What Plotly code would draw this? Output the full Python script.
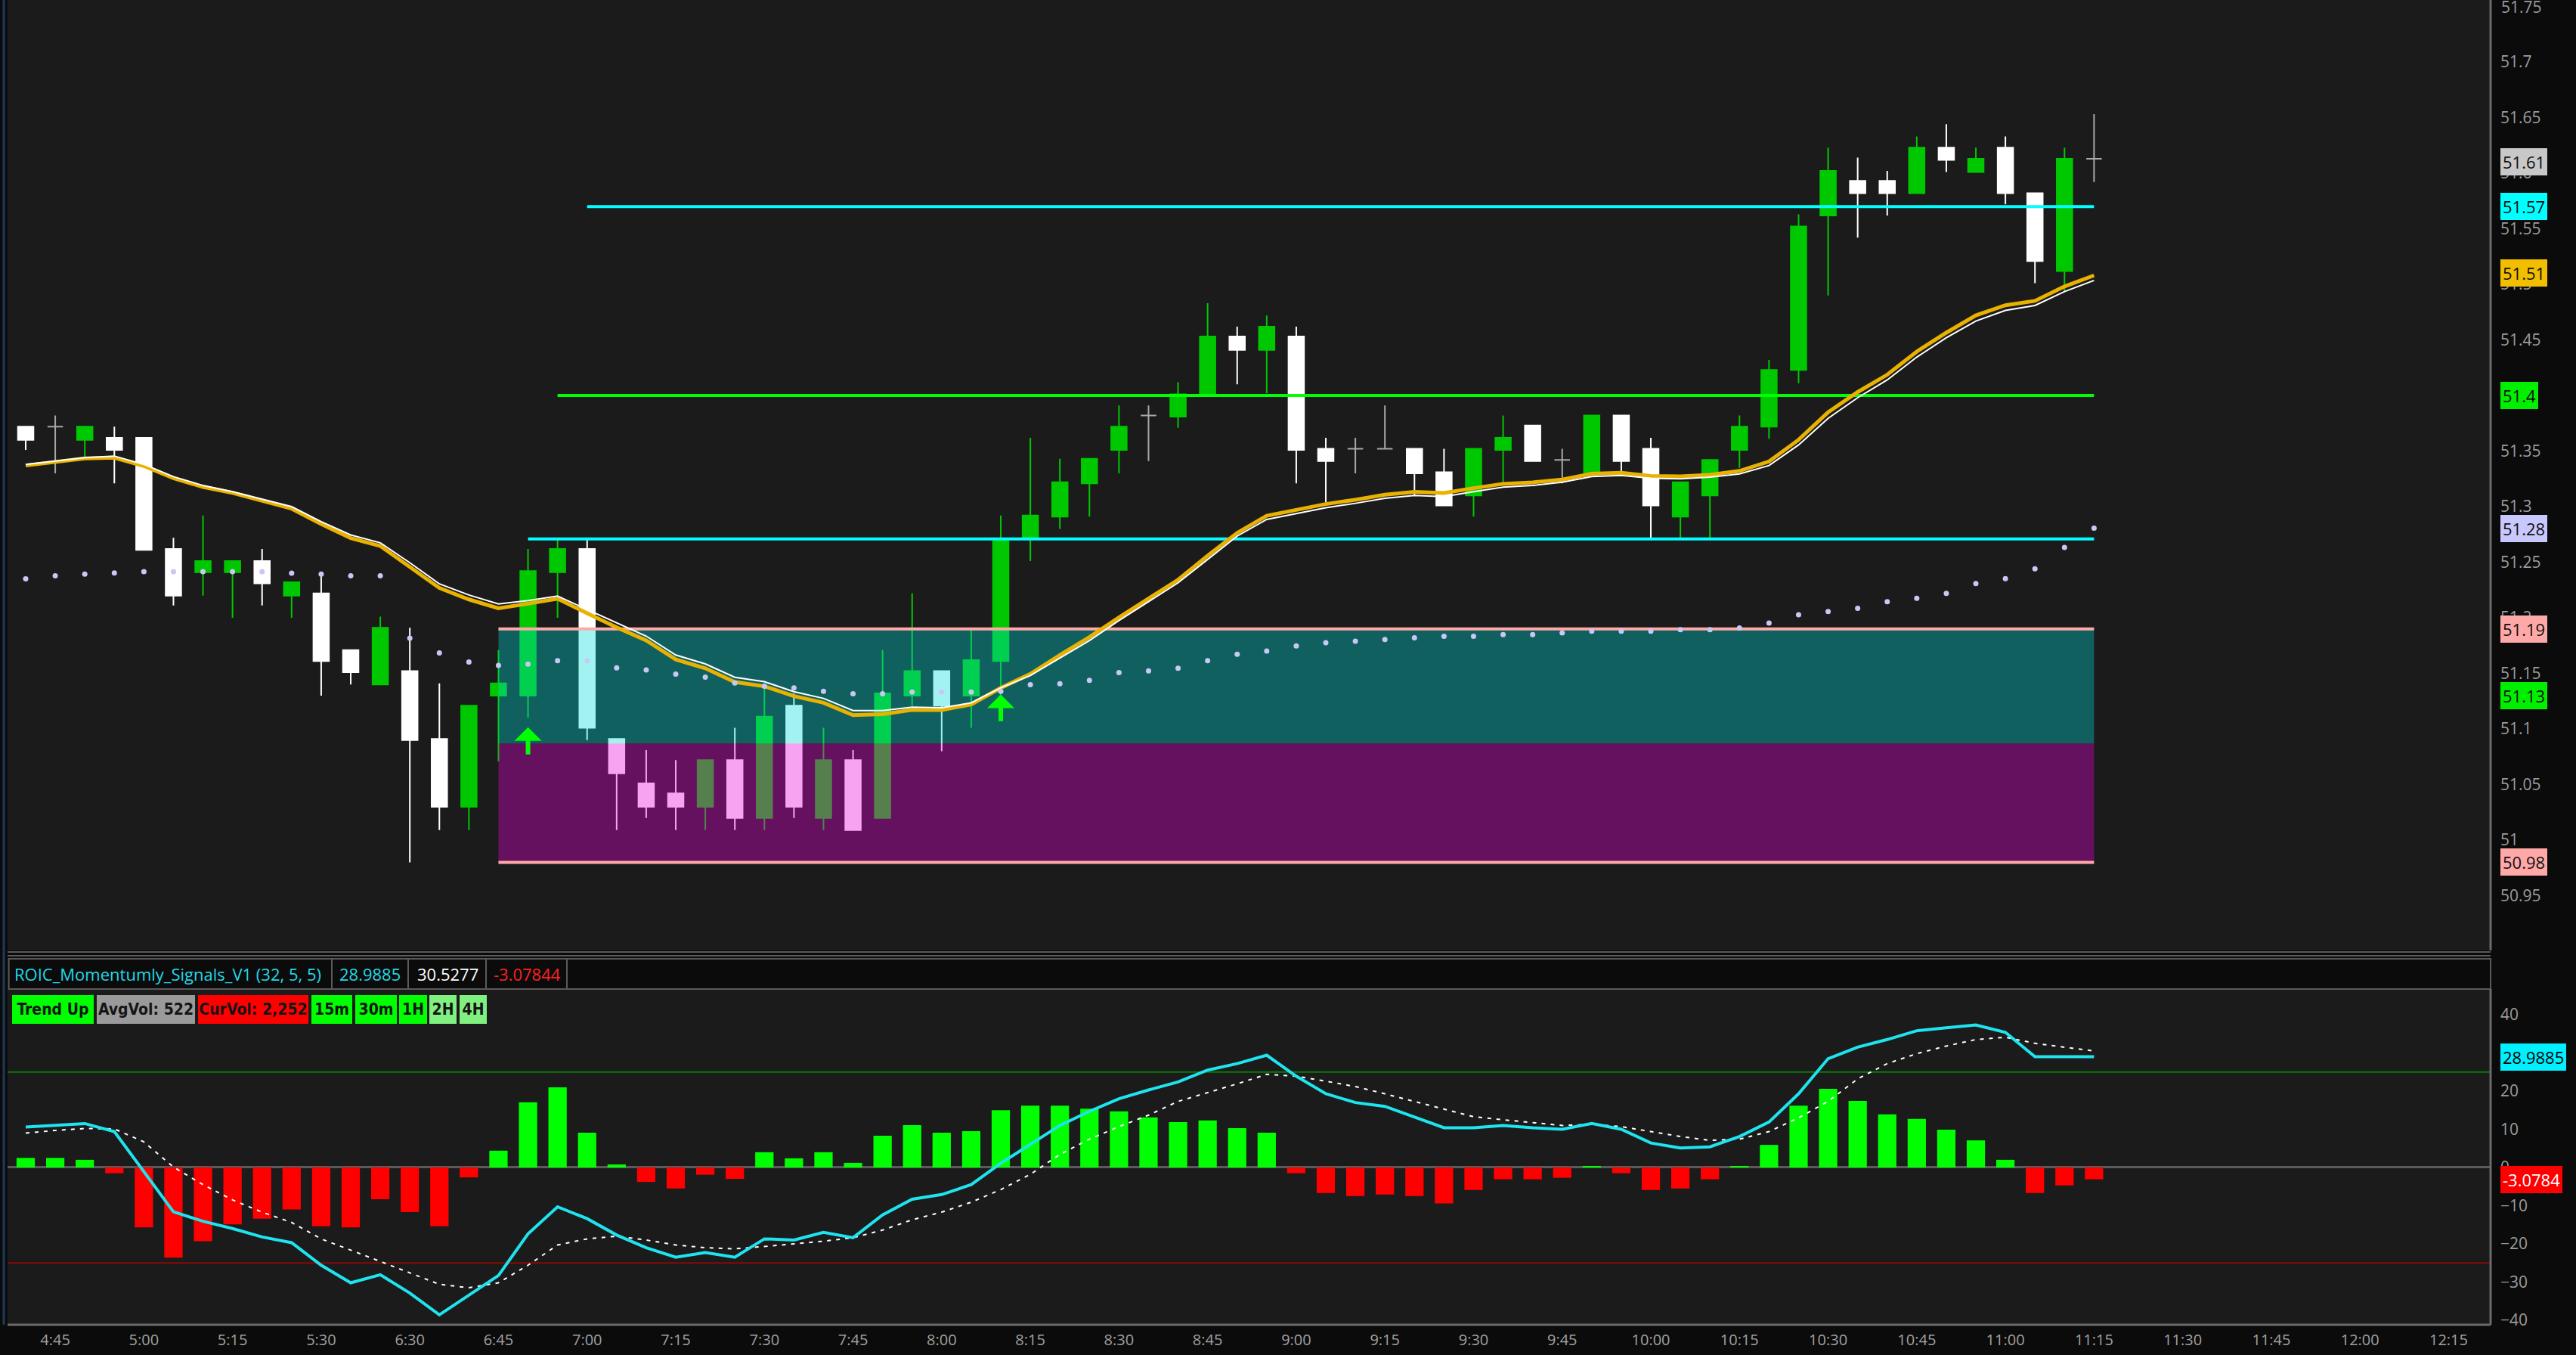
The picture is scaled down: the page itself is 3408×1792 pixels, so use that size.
import plotly.graph_objects as go

# ---------------- data ----------------
bars = list(range(71))
time_label_bars = [1, 4, 7, 10, 13, 16, 19, 22, 25, 28, 31, 34, 37, 40, 43, 46, 49, 52,
                   55, 58, 61, 64, 67, 70, 73, 76, 79, 82]
time_labels = ["4:45", "5:00", "5:15", "5:30", "6:30", "6:45", "7:00", "7:15", "7:30", "7:45",
               "8:00", "8:15", "8:30", "8:45", "9:00", "9:15", "9:30", "9:45", "10:00", "10:15",
               "10:30", "10:45", "11:00", "11:15", "11:30", "11:45", "12:00", "12:15"]

opens = [51.372, 51.372, 51.360, 51.362, 51.362, 51.262, 51.241, 51.241, 51.251, 51.220,
         51.222, 51.171, 51.140, 51.152, 51.091, 51.030, 51.130, 51.130, 51.241, 51.262,
         51.091, 51.051, 51.042, 51.030, 51.072, 51.020, 51.121, 51.020, 51.072, 51.020,
         51.130, 51.152, 51.130, 51.161, 51.271, 51.291, 51.321, 51.351, 51.382, 51.381,
         51.402, 51.453, 51.441, 51.453, 51.352, 51.352, 51.352, 51.352, 51.331, 51.310,
         51.351, 51.373, 51.342, 51.330, 51.382, 51.352, 51.291, 51.310, 51.351, 51.372,
         51.423, 51.562, 51.593, 51.593, 51.582, 51.623, 51.601, 51.623, 51.582, 51.512,
         51.613]
highs = [51.372, 51.382, 51.372, 51.372, 51.362, 51.272, 51.292, 51.251, 51.262, 51.232,
         51.239, 51.171, 51.201, 51.191, 51.141, 51.121, 51.171, 51.262, 51.271, 51.271,
         51.091, 51.081, 51.072, 51.072, 51.101, 51.141, 51.132, 51.101, 51.081, 51.171,
         51.222, 51.152, 51.190, 51.292, 51.362, 51.343, 51.343, 51.391, 51.391, 51.412,
         51.483, 51.462, 51.472, 51.462, 51.362, 51.362, 51.391, 51.352, 51.352, 51.352,
         51.382, 51.373, 51.352, 51.382, 51.382, 51.362, 51.322, 51.342, 51.382, 51.432,
         51.563, 51.623, 51.614, 51.602, 51.633, 51.644, 51.623, 51.633, 51.582, 51.623,
         51.653]
lows = [51.351, 51.330, 51.345, 51.321, 51.261, 51.211, 51.220, 51.200, 51.211, 51.200,
        51.130, 51.140, 51.140, 50.980, 51.009, 51.009, 51.071, 51.110, 51.200, 51.090,
        51.009, 51.020, 51.009, 51.009, 51.009, 51.009, 51.020, 51.009, 51.009, 51.020,
        51.121, 51.080, 51.101, 51.130, 51.251, 51.280, 51.291, 51.330, 51.341, 51.371,
        51.402, 51.410, 51.402, 51.321, 51.304, 51.330, 51.352, 51.310, 51.301, 51.291,
        51.322, 51.341, 51.321, 51.330, 51.330, 51.272, 51.272, 51.272, 51.335, 51.361,
        51.411, 51.490, 51.542, 51.562, 51.582, 51.601, 51.601, 51.572, 51.501, 51.493,
        51.592]
closes = [51.360, 51.372, 51.372, 51.351, 51.261, 51.220, 51.251, 51.251, 51.231, 51.232,
          51.161, 51.151, 51.191, 51.090, 51.030, 51.121, 51.141, 51.242, 51.262, 51.101,
          51.060, 51.030, 51.030, 51.072, 51.020, 51.111, 51.030, 51.072, 51.009, 51.132,
          51.152, 51.121, 51.162, 51.271, 51.292, 51.322, 51.343, 51.372, 51.382, 51.401,
          51.453, 51.441, 51.462, 51.351, 51.341, 51.352, 51.352, 51.330, 51.301, 51.352,
          51.362, 51.341, 51.342, 51.382, 51.341, 51.301, 51.322, 51.342, 51.372, 51.423,
          51.552, 51.602, 51.582, 51.582, 51.623, 51.612, 51.613, 51.582, 51.521, 51.613,
          51.613]

ma_gold = [51.337, 51.3405, 51.3434, 51.344, 51.3366, 51.3256, 51.3177, 51.3124, 51.305, 51.2982,
           51.2844, 51.2717, 51.2646, 51.2461, 51.2269, 51.2165, 51.2086, 51.2127, 51.2172, 51.2041,
           51.1914, 51.1797, 51.1625, 51.1546, 51.1422, 51.1384, 51.1295, 51.1236, 51.1124, 51.1133,
           51.1171, 51.1171, 51.1221, 51.1369, 51.1495, 51.1664, 51.1826, 51.2003, 51.2174, 51.2342,
           51.2558, 51.2763, 51.2918, 51.2971, 51.3023, 51.3062, 51.3107, 51.3132, 51.3122, 51.3166,
           51.3205, 51.3218, 51.3244, 51.3296, 51.3304, 51.3276, 51.3273, 51.3286, 51.3321, 51.3406,
           51.3601, 51.3849, 51.4031, 51.4187, 51.4395, 51.4565, 51.4721, 51.4812, 51.4851, 51.4981,
           51.5080]
ma_white = [51.338, 51.341, 51.344, 51.3455, 51.338, 51.327, 51.319, 51.3135, 51.3065, 51.300,
            51.2865, 51.2745, 51.2675, 51.2495, 51.2305, 51.2205, 51.2125, 51.2155, 51.2195, 51.2075,
            51.195, 51.1835, 51.1665, 51.1585, 51.1465, 51.1425, 51.1335, 51.1275, 51.1165, 51.1165,
            51.1195, 51.119, 51.1235, 51.137, 51.148, 51.164, 51.1795, 51.1975, 51.2145, 51.2315,
            51.2525, 51.2735, 51.2885, 51.294, 51.299, 51.303, 51.3075, 51.310, 51.309, 51.3135,
            51.3175, 51.319, 51.322, 51.327, 51.328, 51.3255, 51.325, 51.3265, 51.3295, 51.337,
            51.3555, 51.3795, 51.398, 51.414, 51.4345, 51.452, 51.467, 51.4765, 51.481, 51.4935,
            51.5035]
vwap_dots = [51.2351, 51.2378, 51.2393, 51.2404, 51.2416, 51.2416, 51.2416, 51.2416, 51.2416, 51.2401,
             51.2393, 51.2378, 51.2378, 51.1817, 51.1684, 51.1602, 51.1572, 51.1584, 51.1614, 51.1614,
             51.1549, 51.1531, 51.1493, 51.1466, 51.1413, 51.1384, 51.1369, 51.1339, 51.1316, 51.1316,
             51.1331, 51.1331, 51.1331, 51.1339, 51.1398, 51.1407, 51.1437, 51.1507, 51.1522, 51.1546,
             51.1614, 51.1672, 51.1701, 51.1746, 51.1775, 51.1790, 51.1805, 51.1820, 51.1834, 51.1834,
             51.1849, 51.1849, 51.1864, 51.1879, 51.1879, 51.1879, 51.1893, 51.1893, 51.1908, 51.1953,
             51.2027, 51.2056, 51.2086, 51.2145, 51.2175, 51.2219, 51.2308, 51.2352, 51.2441, 51.2633,
             51.2807]

level_prices = [51.57, 51.40, 51.271, 51.19, 50.98]
level_start = [19, 18, 17, 16, 16]
level_end = 70
level_colors = ["#00FFFF", "#00FF00", "#00FFFF", "#FFA8A8", "#FFA8A8"]

cloud_start, cloud_end = 16, 70
cloud_top, cloud_mid, cloud_bottom = 51.19, 51.087, 50.98

signal_bars = [17, 33]
signal_tip = [51.1015, 51.131]
signal_tail = [51.076, 51.106]

price_ticks = [50.9, 50.95, 51.0, 51.05, 51.1, 51.15, 51.2, 51.25, 51.3, 51.35,
               51.4, 51.45, 51.5, 51.55, 51.6, 51.65, 51.7, 51.75]
price_tick_text = ["50.9", "50.95", "51", "51.05", "51.1", "51.15", "51.2", "51.25", "51.3", "51.35",
                   "51.4", "51.45", "51.5", "51.55", "51.6", "51.65", "51.7", "51.75"]

price_label_values = [51.61, 51.57, 51.51, 51.40, 51.28, 51.19, 51.13, 50.98]
price_label_text = ["51.61", "51.57", "51.51", "51.4", "51.28", "51.19", "51.13", "50.98"]
price_label_colors = ["#C8C8C8", "#00FFFF", "#F2BE00", "#00F000", "#C8C8FF", "#FFA8A8", "#00F000", "#FFA8A8"]

hist = [2.5, 2.5, 2.0, -1.5, -15.7, -23.6, -19.3, -14.9, -13.4, -11.0,
        -15.4, -15.7, -8.3, -11.7, -15.4, -2.6, 4.4, 17.1, 21.0, 9.1,
        0.8, -3.8, -5.5, -1.9, -3.0, 4.0, 2.4, 4.0, 1.2, 8.3,
        11.1, 9.1, 9.5, 15.0, 16.2, 16.2, 15.4, 14.7, 13.1, 11.9,
        12.3, 10.3, 9.1, -1.5, -6.7, -7.5, -7.1, -7.5, -9.4, -5.9,
        -3.1, -3.1, -2.7, 0.4, -1.5, -5.9, -5.5, -3.1, 0.4, 5.9,
        16.2, 20.6, 17.4, 13.9, 12.7, 9.9, 7.1, 2.0, -6.7, -4.7,
        -3.1]
momentum = [10.6, 11.0, 11.5, 9.4, -1.1, -11.6, -14.1, -16.0, -18.2, -19.7,
            -25.6, -30.2, -28.1, -32.9, -38.6, -33.5, -28.3, -17.4, -10.3, -13.4,
            -17.7, -21.0, -23.5, -22.3, -23.5, -18.7, -19.0, -17.0, -18.4, -12.4,
            -8.3, -7.1, -4.5, 1.1, 6.1, 11.0, 14.7, 18.0, 20.3, 22.4,
            25.5, 27.2, 29.4, 23.9, 19.3, 17.0, 16.0, 13.3, 10.4, 10.4,
            11.0, 10.4, 10.0, 11.5, 10.0, 6.4, 5.1, 5.4, 8.1, 11.9,
            19.3, 28.5, 31.5, 33.5, 35.8, 36.6, 37.3, 35.4, 28.9885, 28.9885,
            28.9885]
signal_line = [9.0, 9.7, 10.2, 10.1, 6.7, 0.1, -4.5, -8.5, -11.7, -14.4,
               -18.7, -21.6, -24.6, -27.6, -30.6, -31.5, -30.2, -25.6, -20.3, -18.7,
               -18.0, -19.0, -20.3, -21.0, -21.3, -20.7, -20.0, -19.3, -18.4, -16.4,
               -13.7, -11.7, -9.1, -5.8, -1.8, 3.4, 7.4, 10.7, 13.7, 17.3,
               19.6, 21.9, 24.4, 23.9, 22.6, 21.2, 19.3, 17.3, 15.3, 13.3,
               12.5, 11.7, 11.0, 11.3, 10.7, 9.4, 8.1, 7.1, 7.4, 9.4,
               13.0, 17.3, 23.2, 27.2, 29.8, 31.8, 33.5, 34.1, 32.5, 31.5,
               30.5277]
upper_band, lower_band = 25, -25
osc_ticks = [-40, -30, -20, -10, 0, 10, 20, 30, 40]
osc_label_values = [28.9885, -3.0784]
osc_label_text = ["28.9885", "-3.0784"]
osc_label_bg = ["#00F0FF", "#FF0000"]
osc_label_fg = ["#000000", "#FFFFFF"]

header_texts = ["ROIC_Momentumly_Signals_V1 (32, 5, 5)", "28.9885", "30.5277", "-3.07844"]
header_colors = ["#22D8E6", "#22D8E6", "#FFFFFF", "#FF2020"]
status_texts = ["Trend Up", "AvgVol: 522", "CurVol: 2,252", "15m", "30m", "1H", "2H", "4H"]
status_colors = ["#00FF00", "#9A9A9A", "#FF0000", "#00FF00", "#00FF00", "#00FF00", "#80F080", "#80F080"]

# ---------------- geometry (pixels of the 3408x1792 page) ----------------
W, H = 3408, 1792
ML, MR, MT, MB = 10, 113, 0, 40
PW = W - ML - MR
PH = H - MT - MB


def py(px_from_top):
    return (PH - px_from_top) / PH


def px(px_from_left):
    return (px_from_left - ML) / PW


main_dom = [py(1257), 1.0]
osc_dom = [0.0, py(1308)]
X_RANGE = [-0.614, 83.42]
Y_RANGE = [50.9007, 51.7558]
Y2_RANGE = [-41.19, 46.73]

BG = "#1B1B1B"
PAPER = "#0B0B0B"
FONT = "Open Sans"
COND = "DejaVu Sans Condensed, Roboto, Open Sans"

fig = go.Figure()

# candles
up = [i for i in bars if closes[i] > opens[i]]
down = [i for i in bars if closes[i] < opens[i]]
doji = [i for i in bars if closes[i] == opens[i]]


def candles(idx, color):
    style = dict(line=dict(color=color, width=2), fillcolor=color)
    return go.Candlestick(
        x=[bars[i] for i in idx], open=[opens[i] for i in idx], high=[highs[i] for i in idx],
        low=[lows[i] for i in idx], close=[closes[i] for i in idx],
        increasing=style, decreasing=style, whiskerwidth=0, xaxis="x", yaxis="y",
        hoverinfo="skip", showlegend=False)


fig.add_trace(candles(up, "#00C800"))
fig.add_trace(candles(down, "#FFFFFF"))
fig.add_trace(candles(doji, "#A8A8A8"))

# cloud (drawn over candles, under lines)
fig.add_trace(go.Scatter(x=[cloud_start, cloud_end, cloud_end, cloud_start],
                         y=[cloud_top, cloud_top, cloud_mid, cloud_mid],
                         fill="toself", fillcolor="rgba(0,220,220,0.36)", mode="none",
                         xaxis="x", yaxis="y", hoverinfo="skip"))
fig.add_trace(go.Scatter(x=[cloud_start, cloud_end, cloud_end, cloud_start],
                         y=[cloud_mid, cloud_mid, cloud_bottom, cloud_bottom],
                         fill="toself", fillcolor="rgba(235,0,215,0.36)", mode="none",
                         xaxis="x", yaxis="y", hoverinfo="skip"))

# level lines
for lp, ls, lc in zip(level_prices, level_start, level_colors):
    fig.add_trace(go.Scatter(x=[ls, level_end], y=[lp, lp], mode="lines",
                             line=dict(color=lc, width=4), xaxis="x", yaxis="y", hoverinfo="skip"))

# moving averages
fig.add_trace(go.Scatter(x=bars, y=ma_gold, mode="lines", line=dict(color="#E9B200", width=5),
                         xaxis="x", yaxis="y", hoverinfo="skip"))
fig.add_trace(go.Scatter(x=bars, y=ma_white, mode="lines", line=dict(color="#FFFFFF", width=2),
                         xaxis="x", yaxis="y", hoverinfo="skip"))
# vwap dots
fig.add_trace(go.Scatter(x=bars, y=vwap_dots, mode="markers",
                         marker=dict(color="#C8C8F4", size=7, line=dict(width=0)),
                         xaxis="x", yaxis="y", hoverinfo="skip"))

# oscillator panel
fig.add_trace(go.Bar(x=bars, y=hist, width=0.62,
                     marker=dict(color=["#00FF00" if v >= 0 else "#FF0000" for v in hist], line=dict(width=0)),
                     xaxis="x", yaxis="y2", hoverinfo="skip"))
fig.add_trace(go.Scatter(x=bars, y=signal_line, mode="lines",
                         line=dict(color="#FFFFFF", width=2, dash="5px,7px"),
                         xaxis="x", yaxis="y2", hoverinfo="skip"))
fig.add_trace(go.Scatter(x=bars, y=momentum, mode="lines", line=dict(color="#1FE3EE", width=4),
                         xaxis="x", yaxis="y2", hoverinfo="skip"))

shapes = []
# band lines in oscillator
shapes.append(dict(type="line", xref="paper", yref="y2", x0=0, x1=1, y0=upper_band, y1=upper_band,
                   line=dict(color="#0A7A0A", width=2), layer="below"))
shapes.append(dict(type="line", xref="paper", yref="y2", x0=0, x1=1, y0=lower_band, y1=lower_band,
                   line=dict(color="#8A0A0A", width=2), layer="below"))
# separators / header strip
shapes.append(dict(type="rect", xref="paper", yref="paper", x0=0, x1=1.045, y0=py(1308), y1=py(1258),
                   fillcolor=PAPER, line=dict(width=0), layer="above"))
shapes.append(dict(type="line", xref="paper", yref="paper", x0=0, x1=1, y0=py(1259), y1=py(1259),
                   line=dict(color="#5A5A5A", width=2), layer="above"))
shapes.append(dict(type="line", xref="paper", yref="paper", x0=0, x1=1, y0=py(1264), y1=py(1264),
                   line=dict(color="#5A5A5A", width=2), layer="above"))
shapes.append(dict(type="rect", xref="paper", yref="paper", x0=0.0005, x1=1, y0=py(1308), y1=py(1268),
                   fillcolor=PAPER, line=dict(color="#5A5A5A", width=2), layer="above"))
for cx in [439, 540, 643, 750]:
    shapes.append(dict(type="line", xref="paper", yref="paper", x0=px(cx), x1=px(cx),
                       y0=py(1308), y1=py(1268), line=dict(color="#5A5A5A", width=2), layer="above"))
# panel borders
shapes.append(dict(type="line", xref="paper", yref="paper", x0=1, x1=1, y0=main_dom[0], y1=1,
                   line=dict(color="#6A6A6A", width=3), layer="above"))
shapes.append(dict(type="line", xref="paper", yref="paper", x0=1, x1=1, y0=0, y1=osc_dom[1],
                   line=dict(color="#6A6A6A", width=3), layer="above"))
shapes.append(dict(type="line", xref="paper", yref="paper", x0=0, x1=1, y0=0, y1=0,
                   line=dict(color="#6A6A6A", width=3), layer="above"))
shapes.append(dict(type="line", xref="paper", yref="paper", x0=px(5), x1=px(5), y0=0, y1=1,
                   line=dict(color="#1E3C5A", width=3), layer="above"))

annotations = []
# top price tick that plotly hides at the page edge
annotations.append(dict(x=1, y=price_ticks[-1], xref="paper", yref="y", xanchor="left", yanchor="middle",
                        xshift=12, text=price_tick_text[-1], showarrow=False,
                        font=dict(family=FONT, size=21, color="#9C9C9C")))
# signal arrows
for sb, st, stl in zip(signal_bars, signal_tip, signal_tail):
    annotations.append(dict(x=sb, y=st, ax=sb, ay=stl, xref="x", yref="y", axref="x", ayref="y",
                            text="", showarrow=True, arrowhead=1, arrowsize=1.0, arrowwidth=6,
                            arrowcolor="#00FF00", standoff=0, startstandoff=0))
# price labels on right axis
for v, t, c in zip(price_label_values, price_label_text, price_label_colors):
    annotations.append(dict(x=px(3308), y=v, xref="paper", yref="y", xanchor="left", yanchor="middle",
                            text=t, showarrow=False, bgcolor=c, bordercolor=c, borderwidth=1, borderpad=2,
                            font=dict(family=FONT, size=22, color="#101010")))
for v, t, bgc, fgc in zip(osc_label_values, osc_label_text, osc_label_bg, osc_label_fg):
    annotations.append(dict(x=px(3308), y=v, xref="paper", yref="y2", xanchor="left", yanchor="middle",
                            text=t, showarrow=False, bgcolor=bgc, bordercolor=bgc, borderwidth=1, borderpad=2,
                            font=dict(family=FONT, size=22, color=fgc)))
# header texts
for t, c, x0 in zip(header_texts, header_colors, [17, 447, 550, 651]):
    annotations.append(dict(x=px(x0), y=py(1288), xref="paper", yref="paper", xanchor="left",
                            yanchor="middle", text=t, showarrow=False,
                            font=dict(family=FONT, size=22, color=c)))
# status boxes
status_x = [16, 128, 262, 412, 470, 528, 568, 608]
status_w = [108, 130, 146, 54, 55, 37, 36, 36]
for t, c, x0, w in zip(status_texts, status_colors, status_x, status_w):
    annotations.append(dict(x=px(x0), y=py(1335), xref="paper", yref="paper", xanchor="left",
                            yanchor="middle", text="<b>" + t + "</b>", showarrow=False,
                            bgcolor=c, borderwidth=0, borderpad=0, width=w, height=38, align="center",
                            font=dict(family=COND, size=21, color="#151515")))

fig.update_layout(
    width=W, height=H, margin=dict(l=ML, r=MR, t=MT, b=MB, autoexpand=False),
    paper_bgcolor=PAPER, plot_bgcolor=BG, showlegend=False, hovermode=False,
    boxgap=0.25, bargap=0.38,
    font=dict(family=FONT, color="#9C9C9C", size=21),
    xaxis=dict(domain=[0, 1], range=X_RANGE, anchor="y2", tickmode="array",
               tickvals=time_label_bars, ticktext=time_labels, showgrid=False, zeroline=False,
               rangeslider=dict(visible=False), ticks="", ticklabelstandoff=6,
               tickfont=dict(family=FONT, size=20, color="#A0A0A0"), fixedrange=True),
    yaxis=dict(domain=main_dom, range=Y_RANGE, side="right", anchor="x", tickmode="array",
               tickvals=price_ticks, ticktext=price_tick_text, showgrid=False, zeroline=False,
               ticks="", ticklabelstandoff=12, automargin=False,
               tickfont=dict(family=FONT, size=21, color="#9C9C9C")),
    yaxis2=dict(domain=osc_dom, range=Y2_RANGE, side="right", anchor="x", tickmode="array",
                tickvals=osc_ticks, showgrid=False, zeroline=True, zerolinecolor="#5A5A5A",
                zerolinewidth=3, ticks="", ticklabelstandoff=12, automargin=False,
                tickfont=dict(family=FONT, size=21, color="#9C9C9C")),
    shapes=shapes, annotations=annotations,
)

fig.write_html("out.html", config={"displayModeBar": False},
               post_script="document.body.style.margin='0';document.body.style.padding='0';"
                           "document.body.style.background='#0B0B0B';"
                           "document.documentElement.style.background='#0B0B0B';")
